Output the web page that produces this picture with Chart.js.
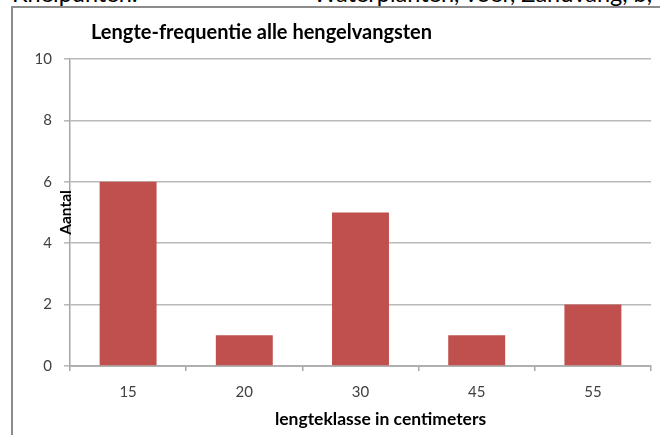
<!DOCTYPE html>
<html>
<head>
<meta charset="utf-8">
<script src="https://cdn.jsdelivr.net/npm/chart.js@4.4.0/dist/chart.umd.min.js"></script>
<style>
  body { margin: 0; background: #fff; }
  #page { position: relative; width: 660px; height: 435px; overflow: hidden; font-family: Lato, sans-serif; }
  .cut { position: absolute; top: -18.5px; font-size: 23.5px; line-height: 23.5px; color: #000; white-space: nowrap; }
  #frame { position: absolute; left: 11px; top: 6px; width: 700px; height: 427px;
           border-left: 2px solid #8c8c8c; border-top: 2px solid #8c8c8c; border-bottom: 1px solid #e2e2e2; }
  canvas { position: absolute; left: 0; top: 0; }
</style>
</head>
<body>
<div id="page">
  <div class="cut" style="left:12px">Knelpunten:</div>
  <div class="cut" style="left:313px">Waterplanten, voer, Zandvang, b,</div>
  <div id="frame"></div>
  <canvas id="barChart" width="660" height="435"></canvas>
</div>
<script>
// data
var categories = ['15', '20', '30', '45', '55'];
var counts = [6, 1, 5, 1, 2];
var yMin = 0, yMax = 10, yStep = 2;

var chartTitle = 'Lengte-frequentie alle hengelvangsten';
var yTitle = 'Aantal';
var xTitle = 'lengteklasse in centimeters';

// titles are drawn by hand, Excel put them slightly off-centre
var textPlugin = {
    id: 'excelTexts',
    afterDraw: function (chart) {
        var c = chart.ctx, a = chart.chartArea;
        c.save();
        c.fillStyle = '#000';
        c.font = 'bold 20px Lato';
        c.textAlign = 'left';
        c.textBaseline = 'middle';
        c.fillText(chartTitle, a.left + 21, 33);

        c.font = 'bold 17.5px Lato';
        c.textAlign = 'center';
        c.fillText(xTitle, (a.left + a.right) / 2 + 20, 419);

        c.font = 'bold 15.5px Lato';
        c.translate(a.left - 4, chart.scales.y.getPixelForValue(5));
        c.rotate(-Math.PI / 2);
        c.fillText(yTitle, 0, 0);
        c.restore();
    }
};

var ctx = document.getElementById('barChart').getContext('2d');
var myChart = new Chart(ctx, {
    type: 'bar',
    data: {
        labels: categories,
        datasets: [{
            label: yTitle,
            data: counts,
            backgroundColor: '#C0504D',
            borderWidth: 0,
            categoryPercentage: 1,
            barPercentage: 0.49
        }]
    },
    options: {
        responsive: false,
        animation: false,
        layout: { padding: { top: 59, right: 9, bottom: 0, left: 0 } },
        plugins: {
            legend: { display: false },
            tooltip: { enabled: false }
        },
        scales: {
            x: {
                offset: true,
                grid: { offset: true, drawOnChartArea: false, tickLength: 5, color: '#a6a6a6', lineWidth: 1.5 },
                border: { color: '#b0b0b0', width: 2 },
                ticks: { color: '#404040', padding: 12, font: { family: 'Lato', size: 15 } },
                afterFit: function (s) { s.height = 69; }
            },
            y: {
                min: yMin,
                max: yMax,
                grid: { tickLength: 6, color: '#bababa', lineWidth: 1.6 },
                border: { color: '#a6a6a6', width: 1.5 },
                ticks: { stepSize: yStep, color: '#404040', padding: 12, font: { family: 'Lato', size: 15 } },
                afterFit: function (s) { s.width = 70; }
            }
        }
    },
    plugins: [textPlugin]
});
</script>
</body>
</html>
